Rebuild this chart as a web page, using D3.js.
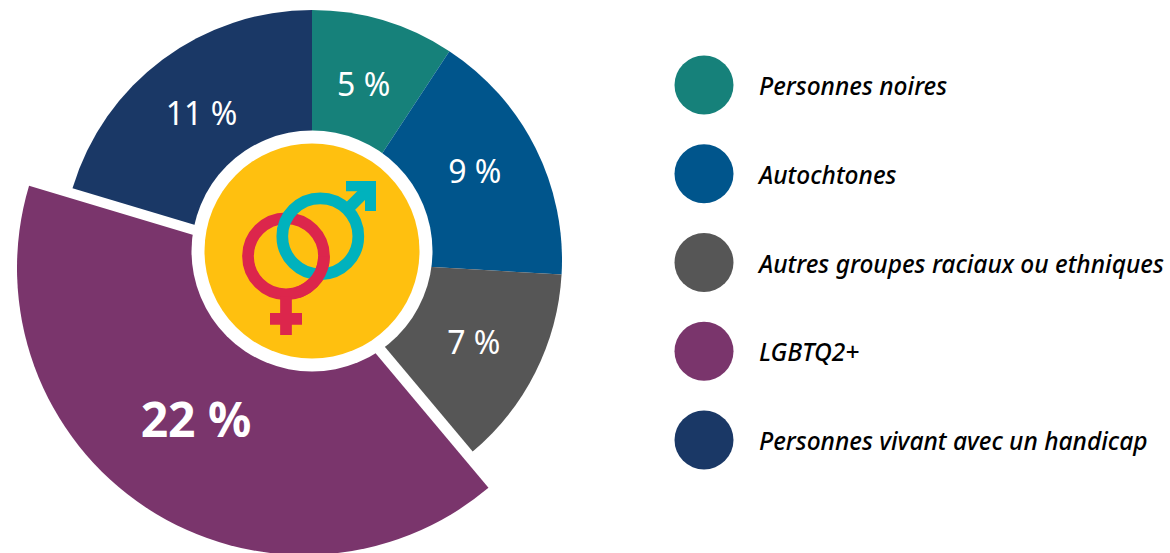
<!DOCTYPE html>
<html>
<head>
<meta charset="utf-8">
<script src="https://d3js.org/d3.v7.min.js"></script>
<style>
  html, body { margin: 0; padding: 0; background: #fff; overflow: hidden; }
  text { font-family: "Noto Sans", sans-serif; }
</style>
</head>
<body>
<script>
const categories = ["Personnes noires", "Autochtones", "Autres groupes raciaux ou ethniques", "LGBTQ2+", "Personnes vivant avec un handicap"];
const values = [5, 9, 7, 22, 11];
const colors = ["#16817a", "#00558c", "#565656", "#7a356c", "#1a3866"];

const width = 1170, height = 553;

const svg = d3.select("body").append("svg")
  .attr("width", width)
  .attr("height", height);

const pie = d3.pie().sort(null)(values);
const arc = d3.arc().innerRadius(0).outerRadius(250);
const bigArc = d3.arc().innerRadius(0).outerRadius(287);
const labelArc = d3.arc().innerRadius(180).outerRadius(180);
// small nudges so the labels sit where the original has them
const labelNudge = [[0, -3], [2, -7], [1, 2], [0, 0], [-3, -2]];

const chart = svg.append("g").attr("transform", "translate(312,260)");

chart.selectAll("path")
  .data(pie)
  .join("path")
  .attr("transform", (d, i) => i == 3 ? "translate(-8,8)" : null)
  .attr("d", (d, i) => i == 3 ? bigArc(d) : arc(d))
  .attr("fill", (d, i) => colors[i]);

chart.selectAll("text")
  .data(pie)
  .join("text")
  .attr("transform", (d, i) => {
    const c = labelArc.centroid(d);
    return i == 3 ? "translate(-116,160)" : `translate(${c[0] + labelNudge[i][0]},${c[1] + labelNudge[i][1]})`;
  })
  .attr("text-anchor", "middle")
  .attr("dy", "0.35em")
  .attr("fill", "#fff")
  .attr("font-size", (d, i) => i == 3 ? 48 : 32)
  .attr("font-weight", (d, i) => i == 3 ? 700 : 400)
  .text(d => d.value + " %");

// centre disc and the two symbols
const centre = svg.append("g").attr("transform", "translate(312,251)");
centre.append("circle").attr("r", 120.5).attr("fill", "#fff");
centre.append("circle").attr("r", 107.5).attr("fill", "#ffc00f");

const blue = "#00b2bd", red = "#dc264c";
const female = centre.append("g").attr("transform", "translate(-26,5.3)");
female.append("circle").attr("r", 38).attr("fill", "none").attr("stroke", red).attr("stroke-width", 11.7);
female.append("path").attr("d", "M0,40V78.7M-16,62.5H16").attr("stroke", red).attr("stroke-width", 11.7);

const male = centre.append("g").attr("transform", "translate(8.3,-14.7)");
male.append("circle").attr("r", 38).attr("fill", "none").attr("stroke", blue).attr("stroke-width", 11.7);
male.append("path").attr("d", "M26,-26L47,-47").attr("stroke", blue).attr("stroke-width", 11.7);
male.append("path").attr("d", "M25.7,-55.3H55.7V-25.3H44.7V-45H25.7Z").attr("fill", blue);

// red goes back over the blue at the lower crossing so the rings interlock
centre.append("path")
  .attr("transform", "translate(-26,5.3)")
  .attr("d", d3.arc().innerRadius(32.15).outerRadius(43.85).startAngle(Math.PI / 2).endAngle(Math.PI * 0.9)())
  .attr("fill", red);

// legend
const legendY = d3.scalePoint().domain(categories).range([85, 440]);
const legend = svg.append("g").selectAll("g")
  .data(categories)
  .join("g")
  .attr("transform", d => `translate(704,${legendY(d)})`);
legend.append("circle").attr("r", 29.5).attr("fill", (d, i) => colors[i]);
legend.append("text")
  .attr("x", 55)
  .attr("y", 1.5)
  .attr("dy", "0.35em")
  .attr("font-size", 24.5)
  .attr("font-style", "italic")
  .attr("font-weight", 500)
  .attr("fill", "#000")
  .text(d => d);
</script>
</body>
</html>
